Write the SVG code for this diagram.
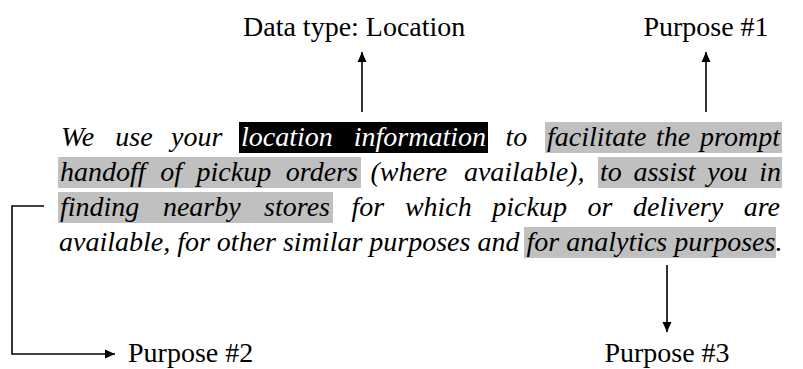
<svg xmlns="http://www.w3.org/2000/svg" width="803" height="369" viewBox="0 0 803 369">
  <style>
    .para { font-family: "Liberation Serif", "Times New Roman", serif; font-style: italic; font-size: 28px; fill: #000; }
    .inv { fill: #fff; }
    .label { font-family: "Liberation Serif", "Times New Roman", serif; font-size: 28px; fill: #000; }
    .hl { fill: #c0c0c0; }
    .dark { fill: #000; }
    .wire { fill: none; stroke: #000; stroke-width: 1.6; }
  </style>
  <defs>
    <marker id="arrow" viewBox="0 0 10 10" refX="10" refY="5" markerWidth="10" markerHeight="10" markerUnits="userSpaceOnUse" orient="auto">
      <path d="M0,0.5 L10,5 L0,9.5 Z" fill="#000"/>
    </marker>
  </defs>
  <rect width="803" height="369" fill="#fff"/>

  <!-- policy sentence, justified word by word -->
  <g id="policy-text">
    <!-- highlight boxes -->
    <rect class="dark" x="239" y="122" width="249" height="31"/>
    <rect class="hl" x="545" y="122" width="237" height="31"/>
    <rect class="hl" x="58" y="157" width="303" height="31"/>
    <rect class="hl" x="598" y="157" width="184" height="31"/>
    <rect class="hl" x="58" y="192" width="275" height="31"/>
    <rect class="hl" x="524" y="227" width="252" height="31"/>

    <text class="para" y="146"><tspan x="61">We</tspan><tspan x="115.3">use</tspan><tspan x="171.1">your</tspan><tspan x="241" class="inv">location</tspan><tspan x="353.8" class="inv">information</tspan><tspan x="505.6">to</tspan><tspan x="547">facilitate</tspan><tspan x="656">the</tspan><tspan x="700.1">prompt</tspan></text>
    <text class="para" y="181"><tspan x="60">handoff</tspan><tspan x="160.2">of</tspan><tspan x="196.6">pickup</tspan><tspan x="285.8">orders</tspan><tspan x="370.5">(where</tspan><tspan x="463.9">available),</tspan><tspan x="600">to</tspan><tspan x="633.4">assist</tspan><tspan x="707.2">you</tspan><tspan x="759.2">in</tspan></text>
    <text class="para" y="216"><tspan x="60">finding</tspan><tspan x="162.9">nearby</tspan><tspan x="264.1">stores</tspan><tspan x="351.6">for</tspan><tspan x="404.9">which</tspan><tspan x="492.3">pickup</tspan><tspan x="587.6">or</tspan><tspan x="633">delivery</tspan><tspan x="743.7">are</tspan></text>
    <text class="para" y="251"><tspan x="59">available, for other similar purposes and</tspan><tspan x="526.5">for analytics purposes</tspan><tspan>.</tspan></text>
  </g>

  <!-- labels -->
  <g id="data-type">
    <text class="label" x="243" y="36">Data type: Location</text>
  </g>
  <g id="purpose-1">
    <text class="label" x="706" y="36" text-anchor="middle">Purpose #1</text>
  </g>
  <g id="purpose-2">
    <text class="label" x="128" y="362">Purpose #2</text>
  </g>
  <g id="purpose-3">
    <text class="label" x="667" y="362" text-anchor="middle">Purpose #3</text>
  </g>

  <!-- connectors -->
  <g id="connectors">
    <line class="wire" x1="362" y1="112" x2="362" y2="52" marker-end="url(#arrow)"/>
    <line class="wire" x1="706" y1="112" x2="706" y2="52" marker-end="url(#arrow)"/>
    <polyline class="wire" points="44,206 12,206 12,354 115,354" marker-end="url(#arrow)"/>
    <line class="wire" x1="667" y1="265" x2="667" y2="332" marker-end="url(#arrow)"/>
  </g>
</svg>
